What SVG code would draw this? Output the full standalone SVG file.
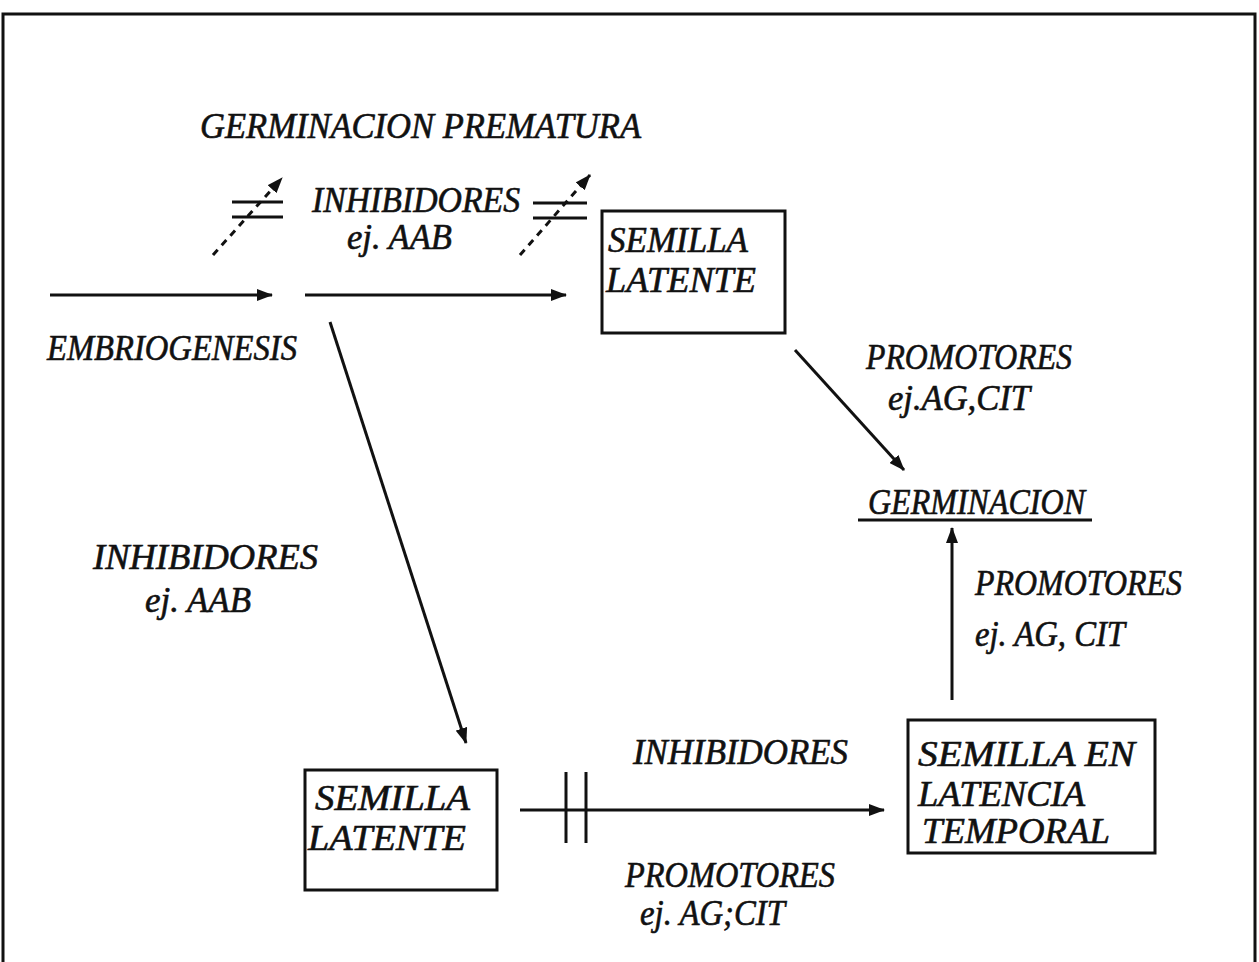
<svg xmlns="http://www.w3.org/2000/svg" width="1259" height="962" viewBox="0 0 1259 962">
<style>
text{font-family:"Liberation Serif","Times New Roman",serif;font-style:italic;font-size:35px;fill:#111;stroke:#111;stroke-width:0.6}
.ln{stroke:#111;stroke-width:3;fill:none}
.dash{stroke:#111;stroke-width:3;fill:none;stroke-dasharray:7 6}
.box{stroke:#111;stroke-width:3;fill:none}
</style>
<defs>
<marker id="ah" markerUnits="userSpaceOnUse" markerWidth="16" markerHeight="12" refX="15" refY="6" orient="auto">
<path d="M0,0 L16,6 L0,12 z" fill="#111"/>
</marker>
</defs>
<rect width="1259" height="962" fill="#fff"/>
<path class="ln" d="M3,962 V14 H1255 V962"/>

<g id="t-prematura"><text x="200" y="138" textLength="441" lengthAdjust="spacingAndGlyphs" font-size="37">GERMINACION  PREMATURA</text></g>
<g id="t-inhib-top"><text x="312" y="212" textLength="208" lengthAdjust="spacingAndGlyphs">INHIBIDORES</text><text x="347" y="249" textLength="105" lengthAdjust="spacingAndGlyphs">ej. AAB</text></g>
<g id="t-embrio"><text x="47" y="360" textLength="250" lengthAdjust="spacingAndGlyphs">EMBRIOGENESIS</text></g>
<g id="n-semilla-latente-1"><rect class="box" x="602" y="211" width="183" height="122"/><text x="608" y="252" textLength="140" lengthAdjust="spacingAndGlyphs">SEMILLA</text><text x="606" y="292" textLength="150" lengthAdjust="spacingAndGlyphs">LATENTE</text></g>
<g id="t-prom-1"><text x="866" y="369" textLength="206" lengthAdjust="spacingAndGlyphs">PROMOTORES</text><text x="888" y="410" textLength="142" lengthAdjust="spacingAndGlyphs">ej.AG,CIT</text></g>
<g id="n-germinacion"><text x="868" y="514" textLength="217" lengthAdjust="spacingAndGlyphs">GERMINACION</text><line class="ln" x1="858" y1="520" x2="1092" y2="520"/></g>
<g id="t-prom-2"><text x="975" y="595" textLength="207" lengthAdjust="spacingAndGlyphs">PROMOTORES</text><text x="975" y="646" textLength="150" lengthAdjust="spacingAndGlyphs">ej. AG, CIT</text></g>
<g id="t-inhib-left"><text x="93" y="569" textLength="225" lengthAdjust="spacingAndGlyphs">INHIBIDORES</text><text x="145" y="612" textLength="106" lengthAdjust="spacingAndGlyphs">ej. AAB</text></g>
<g id="n-semilla-latente-2"><rect class="box" x="305" y="770" width="192" height="120"/><text x="315" y="810" textLength="155" lengthAdjust="spacingAndGlyphs">SEMILLA</text><text x="308" y="850" textLength="158" lengthAdjust="spacingAndGlyphs">LATENTE</text></g>
<g id="t-inhib-bottom"><text x="633" y="764" textLength="215" lengthAdjust="spacingAndGlyphs">INHIBIDORES</text></g>
<g id="t-prom-3"><text x="625" y="887" textLength="210" lengthAdjust="spacingAndGlyphs">PROMOTORES</text><text x="640" y="925" textLength="145" lengthAdjust="spacingAndGlyphs">ej. AG;CIT</text></g>
<g id="n-semilla-temporal"><rect class="box" x="908" y="720" width="247" height="133"/><text x="918" y="766" textLength="217" lengthAdjust="spacingAndGlyphs">SEMILLA EN</text><text x="918" y="806" textLength="167" lengthAdjust="spacingAndGlyphs">LATENCIA</text><text x="922" y="843" textLength="188" lengthAdjust="spacingAndGlyphs">TEMPORAL</text></g>

<g id="connectors">
<line class="ln" x1="50" y1="295" x2="272" y2="295" marker-end="url(#ah)"/>
<line class="ln" x1="305" y1="295" x2="566" y2="295" marker-end="url(#ah)"/>
<line class="dash" x1="213" y1="255" x2="282" y2="178" marker-end="url(#ah)"/>
<line class="dash" x1="520" y1="255" x2="590" y2="175" marker-end="url(#ah)"/>
<line class="ln" x1="232" y1="202" x2="283" y2="202"/>
<line class="ln" x1="232" y1="217" x2="283" y2="217"/>
<line class="ln" x1="533" y1="203" x2="587" y2="203"/>
<line class="ln" x1="533" y1="218" x2="587" y2="218"/>
<line class="ln" x1="795" y1="350" x2="904" y2="470" marker-end="url(#ah)"/>
<line class="ln" x1="952" y1="700" x2="952" y2="528" marker-end="url(#ah)"/>
<line class="ln" x1="330" y1="322" x2="466" y2="743" marker-end="url(#ah)"/>
<line class="ln" x1="520" y1="810" x2="884" y2="810" marker-end="url(#ah)"/>
<line class="ln" x1="566" y1="772" x2="566" y2="843"/>
<line class="ln" x1="586" y1="772" x2="586" y2="843"/>
</g>
</svg>
